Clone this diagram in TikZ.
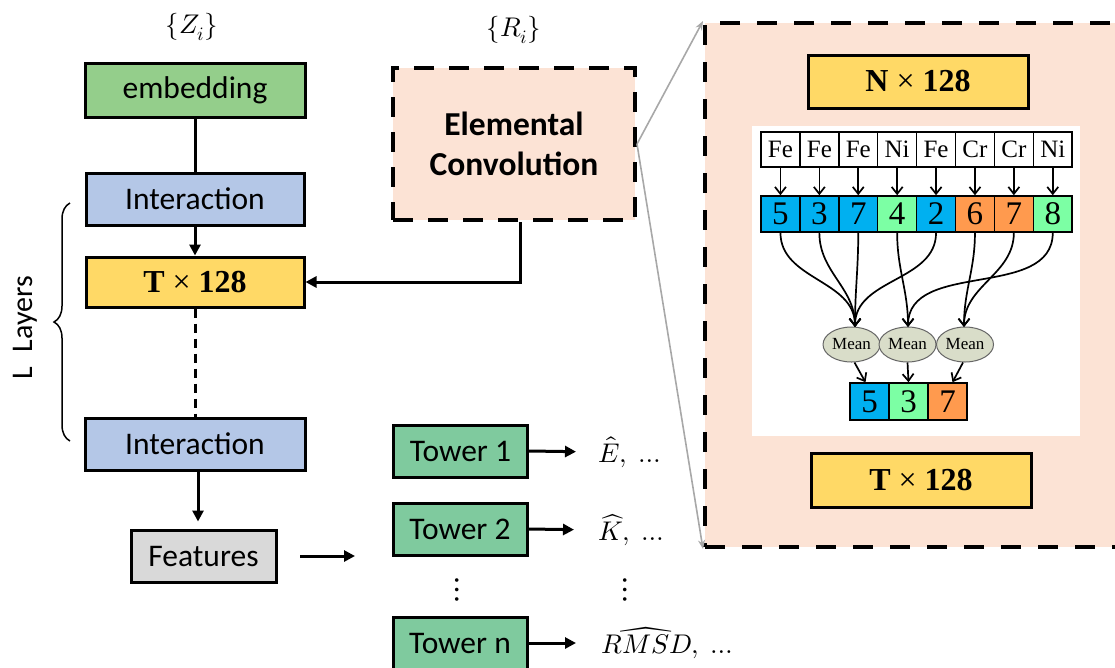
\documentclass[tikz,border=0pt]{standalone}
\usepackage{fontspec}
\usepackage{unicode-math}
\setmainfont{Liberation Serif}
\newfontfamily\uisans{Carlito}
\usetikzlibrary{arrows.meta,decorations.pathreplacing,shapes.geometric}

\definecolor{embedgreen}{HTML}{94CE8B}
\definecolor{towergreen}{HTML}{7FCA9E}
\definecolor{interblue}{HTML}{B4C7E7}
\definecolor{dimyellow}{HTML}{FFD966}
\definecolor{featgray}{HTML}{D9D9D9}
\definecolor{peach}{HTML}{FCE3D5}
\definecolor{cellblue}{HTML}{00B0F0}
\definecolor{cellgreen}{HTML}{7CFFA4}
\definecolor{cellorange}{HTML}{FF9A4E}
\definecolor{meanfill}{HTML}{D9DDC9}
\definecolor{zoomgray}{HTML}{A8A8A8}

\newcommand{\dimtext}[1]{\textbf{#1}\hspace{0.25em}{\mdseries ×}\hspace{0.25em}\textbf{128}}

\tikzset{
  flowbox/.style={draw, line width=3pt, inner sep=0pt, font=\uisans\fontsize{31.5}{36}\selectfont},
  dimbox/.style={draw, line width=3pt, inner sep=0pt, fill=dimyellow, minimum width=218pt,
    font=\fontsize{32}{36}\selectfont},
  towerbox/.style={flowbox, fill=towergreen, minimum width=134pt, minimum height=52pt},
  mainarrow/.style={line width=3pt, -{Triangle[length=11pt,width=11pt]}},
  zoomarrow/.style={draw=zoomgray, line width=1.6pt, -{Stealth[length=9pt,width=7pt]}},
  elemcell/.style={draw, line width=1.5pt, fill=white, minimum width=38.9pt, minimum height=35pt,
    inner sep=0pt, font=\fontsize{25}{28}\selectfont},
  numcell/.style={draw, line width=1.5pt, minimum width=38.9pt, minimum height=36pt,
    inner sep=0pt, font=\fontsize{33}{36}\selectfont},
  meanell/.style={ellipse, draw=black!60, line width=1pt, fill=meanfill, minimum width=57pt,
    minimum height=35pt, inner sep=0pt, font=\fontsize{17}{20}\selectfont},
  cellarrow/.style={line width=1.7pt, -{Straight Barb[length=7pt,width=11pt]}},
  mathlabel/.style={font=\fontsize{27}{30}\selectfont, inner sep=0pt}
}

\begin{document}
\begin{tikzpicture}[x=1pt,y=-1pt]
\useasboundingbox (0,0) rectangle (1115,667);
\clip (0,0) rectangle (1115,667);

% ---------- main trunk ----------
\node[mathlabel] (zin) at (192,27) {$\{Z_i\}$};
\node[flowbox, fill=embedgreen, minimum width=220pt, minimum height=54pt] (emb) at (195,90) {embedding};
\node[flowbox, fill=interblue, minimum width=218pt, minimum height=52pt] (int1) at (195,199) {Interaction};
\node[dimbox, minimum height=50pt] (tdim) at (195,282) {\dimtext{T}};
\node[flowbox, fill=interblue, minimum width=220pt, minimum height=52pt] (int2) at (195,444) {Interaction};
\node[flowbox, fill=featgray, minimum width=145pt, minimum height=52pt] (feat) at (203.5,556) {Features};

\draw[line width=3pt] (emb) -- (int1);
\draw[mainarrow] (int1) -- (tdim);
\draw[line width=3pt, dash pattern=on 9pt off 6pt] (tdim) -- (int2);
\draw[mainarrow] ([xshift=3pt]int2.south) -- ([xshift=3pt,yshift=7pt]int2.south |- feat.north);

% layer brace
\draw[line width=1.5pt, decorate, decoration={brace, amplitude=16pt}] (70,441) -- (70,203);
\node[rotate=90, font=\uisans\fontsize{30}{34}\selectfont] (layers) at (25,328) {L\hspace{0.5em}Layers};

% features to towers
\coordinate (fa) at (300,556);
\coordinate (fb) at (355,556);
\draw[mainarrow] (fa) -- (fb);

% ---------- elemental convolution ----------
\node[mathlabel] (rin) at (514,30) {$\{R_i\}$};
\node[draw, line width=4pt, dash pattern=on 20pt off 15pt, fill=peach, minimum width=242pt,
  minimum height=152pt, align=center, font=\uisans\bfseries\fontsize{33.5}{40}\selectfont] (ec) at (514,144)
  {Elemental\\Convolution};
\draw[mainarrow] ([xshift=6pt]ec.south) |- (tdim.east);

% ---------- towers ----------
\node[towerbox] (tw1) at (460.5,451) {Tower 1};
\node[towerbox] (tw2) at (460,529) {Tower 2};
\node[towerbox] (twn) at (460,643) {Tower n};
\node[mathlabel, anchor=west] (oe) at (598,452) {$\hat{E},\ \ldots$};
\node[mathlabel, anchor=west] (ok) at (598,530) {$\widehat{K},\ \ldots$};
\node[mathlabel, anchor=west] (or) at (601,643) {$\widehat{RMSD},\ \ldots$};
\draw[mainarrow, shorten >=22pt] (tw1.east) -- (oe.west);
\draw[mainarrow, shorten >=24pt] (tw2.east) -- (ok.west);
\draw[mainarrow, shorten >=25pt] (twn.east) -- (or.west);
\node[font=\fontsize{34}{36}\selectfont, inner sep=0pt] (vd1) at (457,590) {$\vdots$};
\node[font=\fontsize{34}{36}\selectfont, inner sep=0pt] (vd2) at (625,590) {$\vdots$};

% ---------- zoomed panel ----------
\node[draw, line width=4pt, dash pattern=on 20pt off 17pt, fill=peach, minimum width=440pt,
  minimum height=524pt, inner sep=0pt] (zoom) at (925,285) {};
\draw[zoomarrow] (ec.east) -- (zoom.north west);
\draw[zoomarrow] (ec.east) -- (zoom.south west);

\node[dimbox, minimum width=220pt, minimum height=53pt] (ndim) at (918,81.5) {\dimtext{N}};
\node[dimbox, minimum width=220pt, minimum height=54pt] (tdim2) at (921,480) {\dimtext{T}};
\node[fill=white, minimum width=328pt, minimum height=310pt, inner sep=0pt] (panel) at (916,281) {};

% element row and grouped feature row
\foreach \el [count=\i] in {Fe,Fe,Fe,Ni,Fe,Cr,Cr,Ni}
  \node[elemcell] (e\i) at ({761+38.9*(\i-0.5)},149.5) {\el};
\foreach \num/\col [count=\i] in {5/cellblue,3/cellblue,7/cellblue,4/cellgreen,2/cellblue,6/cellorange,7/cellorange,8/cellgreen}
  \node[numcell, fill=\col] (n\i) at ({761+38.9*(\i-0.5)},214) {\num};
\foreach \i in {1,...,8}
  \draw[cellarrow] (e\i.south) -- (n\i.north);

% mean pooling
\node[meanell] (m1) at (851.5,344.5) {Mean};
\node[meanell] (m2) at (907.5,344.5) {Mean};
\node[meanell] (m3) at (965,344.5) {Mean};
\coordinate (p1) at (855,327);
\coordinate (p2) at (908,327);
\coordinate (p3) at (964,327);

\draw[cellarrow] (n1.south) to[out=-90,in=90] (p1);
\draw[cellarrow] (n2.south) to[out=-90,in=90] (p1);
\draw[cellarrow] (n3.south) to[out=-90,in=90] (p1);
\draw[cellarrow] (n5.south) to[out=-90,in=90] (p1);
\draw[cellarrow] (n4.south) to[out=-90,in=90] (p2);
\draw[cellarrow] (n8.south) to[out=-90,in=90] (p2);
\draw[cellarrow] (n6.south) to[out=-90,in=90] (p3);
\draw[cellarrow] (n7.south) to[out=-90,in=90] (p3);

\node[numcell, fill=cellblue, minimum width=39pt, minimum height=37pt] (o1) at (869.5,401.5) {5};
\node[numcell, fill=cellgreen, minimum width=39pt, minimum height=37pt] (o2) at (908.5,401.5) {3};
\node[numcell, fill=cellorange, minimum width=39pt, minimum height=37pt] (o3) at (947.5,401.5) {7};
\draw[cellarrow] ([xshift=3pt]m1.south) -- ([xshift=-4pt]o1.north);
\draw[cellarrow] (m2.south) -- (o2.north);
\draw[cellarrow] ([xshift=-2pt]m3.south) -- ([xshift=5pt]o3.north);
\end{tikzpicture}
\end{document}
